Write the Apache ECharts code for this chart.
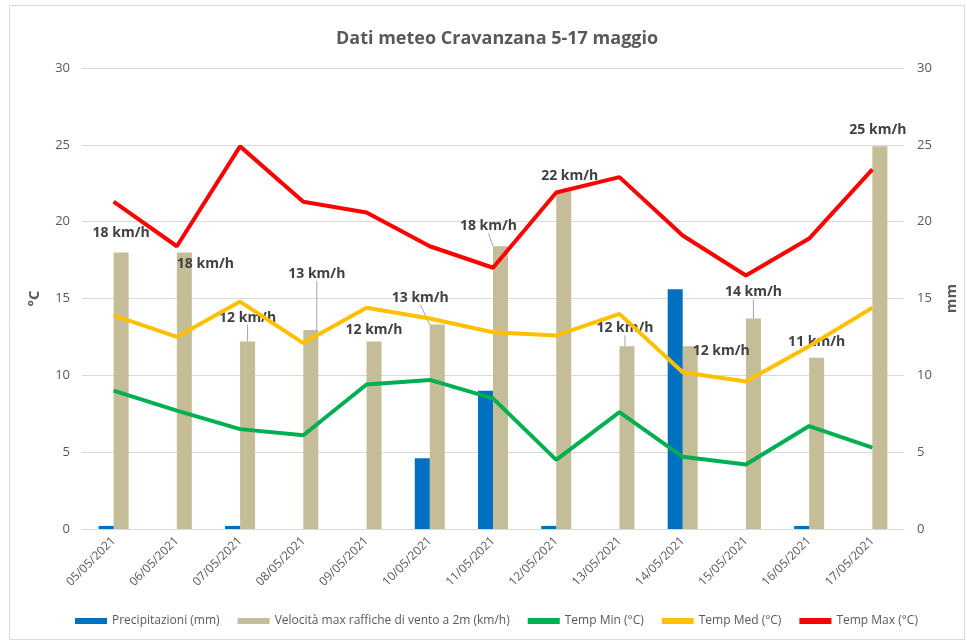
<!DOCTYPE html>
<html>
<head>
<meta charset="utf-8">
<script src="https://cdn.jsdelivr.net/npm/echarts@6/dist/echarts.min.js"></script>
<style>
html,body{margin:0;padding:0;background:#fff;}
#c{width:967px;height:641px;}
</style>
</head>
<body>
<div id="c"></div>
<script>
const categories = ['05/05/2021','06/05/2021','07/05/2021','08/05/2021','09/05/2021','10/05/2021','11/05/2021','12/05/2021','13/05/2021','14/05/2021','15/05/2021','16/05/2021','17/05/2021'];
const precipitazioni = [0.2, 0, 0.2, 0, 0, 4.6, 9.0, 0.2, 0, 15.6, 0, 0.2, 0];
const ventoMax = [18.0, 18.0, 12.2, 12.95, 12.2, 13.3, 18.4, 22.0, 11.9, 11.9, 13.7, 11.15, 24.9];
const tempMin = [9.0, 7.7, 6.5, 6.1, 9.4, 9.7, 8.5, 4.5, 7.6, 4.7, 4.2, 6.7, 5.3];
const tempMed = [13.9, 12.5, 14.8, 12.1, 14.4, 13.7, 12.8, 12.6, 14.0, 10.2, 9.6, 11.9, 14.4];
const tempMax = [21.3, 18.4, 24.9, 21.3, 20.6, 18.4, 17.0, 21.9, 22.9, 19.1, 16.5, 18.9, 23.4];
const yTicks = [0, 5, 10, 15, 20, 25, 30];

// label placement (style only)
const labelShift = [[0,-7],[21,24],[0,-12],[6,-44],[0,0],[-17,-15],[-12,-8],[6,-3],[-2,-6],[31,17],[0,-14],[0,-4],[-2,-4]];
const showLeader = [false,false,true,true,false,true,true,false,true,false,true,false,false];

const txt = '#595959';
const fontFam = '"Open Sans", "Noto Sans", sans-serif';

const chart = echarts.init(document.getElementById('c'));
const option = {
  animation: false,
  backgroundColor: '#fff',
  textStyle: {fontFamily: fontFam},
  title: {
    text: 'Dati meteo Cravanzana 5-17 maggio',
    left: 331, top: 25,
    textStyle: {fontSize: 18, fontWeight: 'bold', color: txt, fontFamily: fontFam}
  },
  graphic: [{
    type: 'rect', left: 7, top: 3, shape: {width: 955, height: 634},
    style: {fill: 'none', stroke: '#D9D9D9', lineWidth: 1}, silent: true
  }],
  legend: {
    bottom: 9, left: 70, itemGap: 18, itemWidth: 32, itemHeight: 6,
    textStyle: {color: txt, fontSize: 12, fontFamily: fontFam},
    data: [
      {name: 'Precipitazioni (mm)', icon: 'rect'},
      {name: 'Velocità max raffiche di vento a 2m (km/h)', icon: 'rect'},
      {name: 'Temp Min (°C)', icon: 'rect'},
      {name: 'Temp Med (°C)', icon: 'rect'},
      {name: 'Temp Max (°C)', icon: 'rect'}
    ]
  },
  grid: {left: 82, right: 62, top: 68, bottom: 112},
  xAxis: {
    type: 'category', data: categories,
    axisLine: {lineStyle: {color: '#D9D9D9', width: 1}},
    axisTick: {show: false},
    axisLabel: {color: txt, fontSize: 12, rotate: 45, margin: 10, interval: 0}
  },
  yAxis: [{
    type: 'value', min: 0, max: 30, interval: 5, name: '°C',
    nameLocation: 'middle', nameGap: 40, nameRotate: 90,
    nameTextStyle: {color: txt, fontSize: 15, fontWeight: 'bold'},
    axisLine: {show: false}, axisTick: {show: false},
    axisLabel: {color: txt, fontSize: 13, margin: 12, formatter: v => yTicks.includes(v) ? String(v) : ''},
    splitLine: {lineStyle: {color: '#D9D9D9', width: 1}}
  }, {
    type: 'value', min: 0, max: 30, interval: 5, name: 'mm', position: 'right',
    nameLocation: 'middle', nameGap: 40, nameRotate: 90,
    nameTextStyle: {color: txt, fontSize: 15, fontWeight: 'bold'},
    axisLine: {show: false}, axisTick: {show: false},
    axisLabel: {color: txt, fontSize: 13, margin: 13},
    splitLine: {show: false}
  }],
  series: [{
    name: 'Precipitazioni (mm)', type: 'bar', yAxisIndex: 1,
    data: precipitazioni, barWidth: 15, barGap: '0%',
    itemStyle: {color: '#0070C0'}
  }, {
    name: 'Velocità max raffiche di vento a 2m (km/h)', type: 'bar', yAxisIndex: 0,
    data: ventoMax.map((v, i) => ({value: v, labelLine: {show: showLeader[i]}})),
    barWidth: 15, barGap: '0%',
    itemStyle: {color: '#C4BD97'},
    label: {
      show: true, position: 'top', distance: 5,
      formatter: p => Math.round(p.value) + ' km/h',
      color: '#404040', fontSize: 14, fontWeight: 'bold', fontFamily: fontFam
    },
    labelLine: {show: false, lineStyle: {color: '#A6A6A6', width: 1}},
    labelLayout: p => ({dx: labelShift[p.dataIndex][0], dy: labelShift[p.dataIndex][1]}),
    z: 1
  }, {
    name: 'Temp Min (°C)', type: 'line', data: tempMin, symbol: 'none',
    lineStyle: {color: '#00B050', width: 4}, itemStyle: {color: '#00B050'}, z: 3
  }, {
    name: 'Temp Med (°C)', type: 'line', data: tempMed, symbol: 'none',
    lineStyle: {color: '#FFC000', width: 4}, itemStyle: {color: '#FFC000'}, z: 3
  }, {
    name: 'Temp Max (°C)', type: 'line', data: tempMax, symbol: 'none',
    lineStyle: {color: '#FF0000', width: 4}, itemStyle: {color: '#FF0000'}, z: 3
  }]
};
chart.setOption(option);
</script>
</body>
</html>
